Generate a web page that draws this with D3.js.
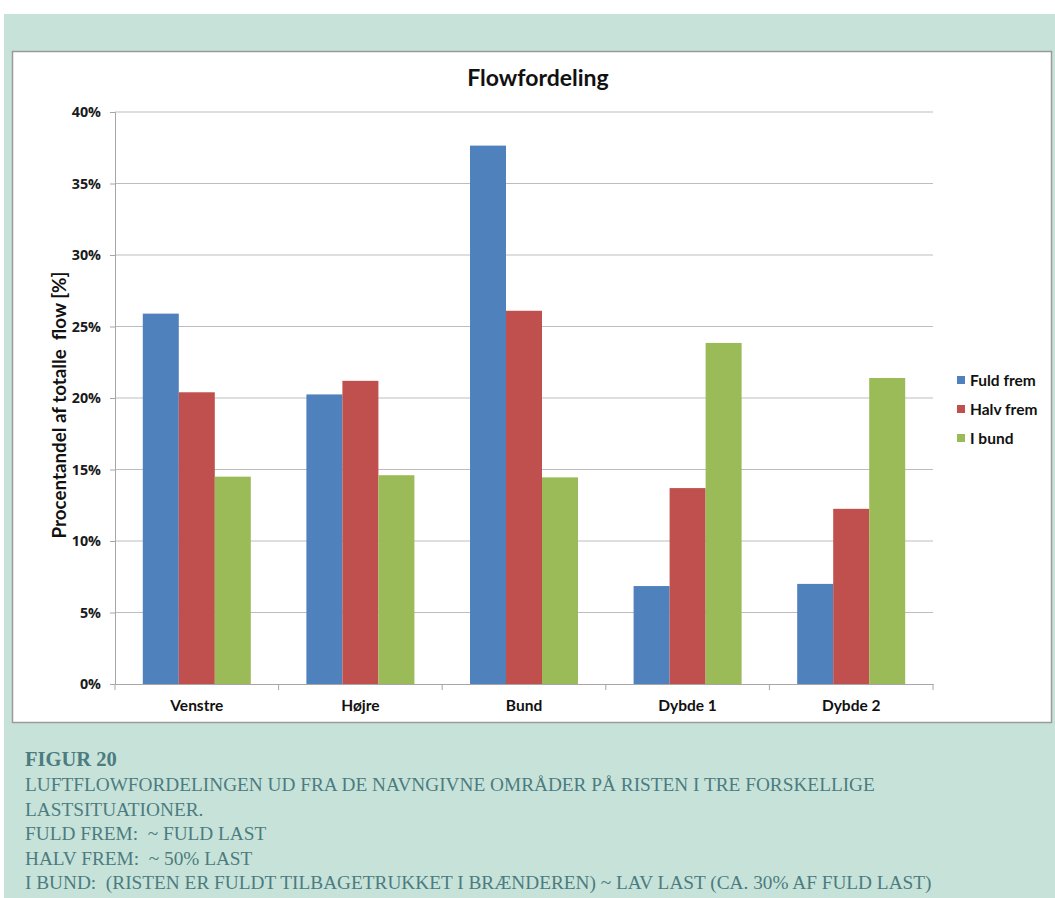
<!DOCTYPE html>
<html>
<head>
<meta charset="utf-8">
<script src="https://cdn.jsdelivr.net/npm/d3@7"></script>
<style>
  html, body { margin: 0; padding: 0; background: #fff; }
  svg { display: block; }
</style>
</head>
<body>
<div id="chart"></div>
<script>
// chart data
const categories = ["Venstre", "Højre", "Bund", "Dybde 1", "Dybde 2"];
const seriesNames = ["Fuld frem", "Halv frem", "I bund"];
const fuldFrem = [25.9, 20.25, 37.65, 6.85, 7.0];
const halvFrem = [20.4, 21.2, 26.1, 13.7, 12.25];
const iBund = [14.5, 14.6, 14.45, 23.85, 21.4];
const yTicks = [0, 5, 10, 15, 20, 25, 30, 35, 40];
const captionLines = [
    "LUFTFLOWFORDELINGEN UD FRA DE NAVNGIVNE OMRÅDER PÅ RISTEN I TRE FORSKELLIGE",
    "LASTSITUATIONER.",
    "FULD FREM:  ~ FULD LAST",
    "HALV FREM:  ~ 50% LAST",
    "I BUND:  (RISTEN ER FULDT TILBAGETRUKKET I BRÆNDEREN) ~ LAV LAST (CA. 30% AF FULD LAST)"
];

const colors = ["#4f81bd", "#c0504d", "#9bbb59"];
const seriesValues = [fuldFrem, halvFrem, iBund];

const W = 1055, H = 898;
const svg = d3.select("#chart").append("svg")
    .attr("width", W)
    .attr("height", H);

// green panel + white chart box
svg.append("rect").attr("x", 4).attr("y", 14).attr("width", W - 4).attr("height", H - 14)
    .attr("fill", "#c7e3d9");
svg.append("rect").attr("x", 12.5).attr("y", 51.5).attr("width", 1039).attr("height", 671)
    .attr("fill", "#fff").attr("stroke", "#9a9a9a").attr("stroke-width", 1.5);

const plot = { left: 115, right: 933, top: 112, bottom: 684 };

const x0 = d3.scaleBand()
    .domain(categories)
    .range([plot.left, plot.right]);

const x1 = d3.scaleBand()
    .domain(seriesNames)
    .range([0, x0.bandwidth()])
    .paddingOuter(0.772);

const y = d3.scaleLinear()
    .domain([0, 40])
    .range([plot.bottom, plot.top]);

// gridlines
svg.append("g")
    .selectAll("line")
    .data(yTicks.filter(d => d > 0))
    .enter()
    .append("line")
    .attr("x1", plot.left)
    .attr("x2", plot.right)
    .attr("y1", d => y(d))
    .attr("y2", d => y(d))
    .attr("stroke", "#bdbdbd")
    .attr("stroke-width", 1);

// bars
const groups = svg.append("g")
    .selectAll("g")
    .data(categories)
    .enter()
    .append("g")
    .attr("transform", d => `translate(${x0(d)},0)`);

groups.selectAll("rect")
    .data((d, i) => seriesNames.map((s, j) => ({ s: s, v: seriesValues[j][i], c: colors[j] })))
    .enter()
    .append("rect")
    .attr("x", d => x1(d.s))
    .attr("width", x1.bandwidth())
    .attr("y", d => y(d.v))
    .attr("height", d => y(0) - y(d.v))
    .attr("fill", d => d.c);

// y axis
const yAxis = svg.append("g")
    .attr("transform", `translate(${plot.left},0)`)
    .call(d3.axisLeft(y).tickValues(yTicks).tickSize(5).tickPadding(9).tickFormat(d => d + "%"));
yAxis.select(".domain").attr("stroke", "#a6a6a6");
yAxis.selectAll(".tick line").attr("stroke", "#a6a6a6");
yAxis.selectAll("text")
    .attr("font-family", "'Open Sans', sans-serif")
    .attr("font-weight", "bold")
    .attr("font-size", 14.3)
    .attr("fill", "#1a1a1a");

// x axis
const xAxis = svg.append("g")
    .attr("transform", `translate(0,${plot.bottom})`)
    .call(d3.axisBottom(x0).tickSize(0).tickPadding(16));
xAxis.select(".domain").attr("stroke", "#a6a6a6");
xAxis.selectAll("text")
    .attr("font-family", "Lato, sans-serif")
    .attr("font-weight", "bold")
    .attr("font-size", 15.5)
    .attr("fill", "#111");
// category separators
svg.append("g")
    .selectAll("line")
    .data(categories.map(c => x0(c)).concat([plot.right]))
    .enter()
    .append("line")
    .attr("x1", d => d).attr("x2", d => d)
    .attr("y1", plot.bottom).attr("y2", plot.bottom + 6)
    .attr("stroke", "#a6a6a6");

// y axis title
svg.append("text")
    .attr("transform", `translate(66,${(plot.top + plot.bottom) / 2 + 7}) rotate(-90)`)
    .attr("text-anchor", "middle")
    .attr("font-family", "Lato, sans-serif")
    .attr("font-weight", "bold")
    .attr("font-size", 18.8)
    .attr("fill", "#111")
    .style("white-space", "pre")
    .text("Procentandel af totalle  flow [%]");

// title
svg.append("text")
    .attr("x", 538)
    .attr("y", 86)
    .attr("text-anchor", "middle")
    .attr("font-family", "Lato, sans-serif")
    .attr("font-weight", "bold")
    .attr("font-size", 23)
    .attr("fill", "#111")
    .text("Flowfordeling");

// legend
const legend = svg.append("g")
    .selectAll("g")
    .data(seriesNames)
    .enter()
    .append("g")
    .attr("transform", (d, i) => `translate(957,${380 + i * 29})`);
legend.append("rect")
    .attr("x", 0).attr("y", -4)
    .attr("width", 8).attr("height", 8)
    .attr("fill", (d, i) => colors[i]);
legend.append("text")
    .attr("x", 13)
    .attr("y", 5.5)
    .attr("font-family", "Lato, sans-serif")
    .attr("font-weight", "bold")
    .attr("font-size", 15.5)
    .attr("fill", "#111")
    .text(d => d);

// caption
const cap = svg.append("g")
    .attr("font-family", "'Liberation Serif', serif")
    .attr("fill", "#4c7b80");
cap.append("text")
    .attr("x", 25).attr("y", 766)
    .attr("font-weight", "bold")
    .attr("font-size", 20.5)
    .text("FIGUR 20");
cap.selectAll("text.line")
    .data(captionLines)
    .enter()
    .append("text")
    .attr("class", "line")
    .attr("x", 25)
    .attr("y", (d, i) => 791 + i * 24.6)
    .attr("font-size", 19.3)
    .style("white-space", "pre")
    .text(d => d);
</script>
</body>
</html>
